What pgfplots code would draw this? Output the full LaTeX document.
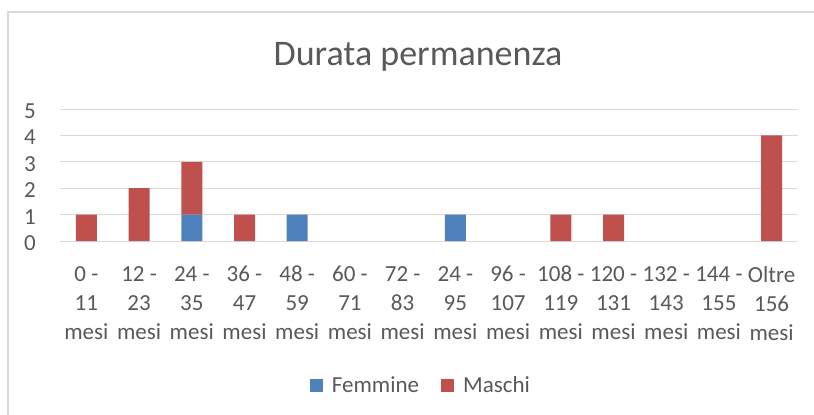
\documentclass[border=0pt]{standalone}
\usepackage{pgfplots}
\pgfplotsset{compat=1.18}
\usepackage{fontspec}
\setmainfont{Carlito}
\definecolor{fem}{HTML}{4F81BD}
\definecolor{mas}{HTML}{C0504D}
\definecolor{txt}{HTML}{595959}
\definecolor{grd}{HTML}{D9D9D9}
\begin{document}
\begin{tikzpicture}[x=1bp,y=1bp]
\useasboundingbox (0,0) rectangle (814,414);
\draw[grd, line width=1.5bp] (8,-2) -- (8,402) -- (816,402);
\node[txt, font=\fontsize{36bp}{42bp}\selectfont, anchor=base, inner sep=0] at (418,349) {Durata permanenza};
\begin{axis}[
  at={(60bp,173bp)}, anchor=south west, scale only axis,
  width=738bp, height=132bp,
  ybar stacked, bar width=21bp,
  xmin=-0.5, xmax=13.5, ymin=0, ymax=5,
  ytick={0,1,2,3,4,5}, xtick={0,1,...,13},
  xticklabels={{0 -\\11\\mesi},{12 -\\23\\mesi},{24 -\\35\\mesi},{36 -\\47\\mesi},{48 -\\59\\mesi},{60 -\\71\\mesi},{72 -\\83\\mesi},{24 -\\95\\mesi},{96 -\\107\\mesi},{108 -\\119\\mesi},{120 -\\131\\mesi},{132 -\\143\\mesi},{144 -\\155\\mesi},{Oltre\\156\\mesi}},
  axis x line*=bottom, axis y line*=left, axis line style={draw=none},
  ymajorgrids, grid style={grd, line width=1bp},
  major tick length=0,
  /pgf/number format/assume math mode=true,
  ticklabel style={text=txt, font=\fontsize{23bp}{29bp}\selectfont},
  yticklabel style={inner sep=0, xshift=-24bp, yshift=-2bp},
  xticklabel style={align=center, inner sep=0, yshift=-25bp},
  legend style={at={(0.489,-1.091)}, anchor=center, draw=none, fill=none,
    font=\fontsize{23bp}{28bp}\selectfont, text=txt,
    /tikz/column 2/.append style={column sep=20bp}},
  legend columns=2,
  legend image code/.code={\fill[#1] (0bp,-6.5bp) rectangle (13bp,6.5bp); \path (20bp,0bp);},
]
\addplot[fill=fem, draw=none] coordinates {(0,0) (1,0) (2,1) (3,0) (4,1) (5,0) (6,0) (7,1) (8,0) (9,0) (10,0) (11,0) (12,0) (13,0)};
\addlegendentry{Femmine}
\addplot[fill=mas, draw=none] coordinates {(0,1) (1,2) (2,2) (3,1) (4,0) (5,0) (6,0) (7,0) (8,0) (9,1) (10,1) (11,0) (12,0) (13,4)};
\addlegendentry{Maschi}
\end{axis}
\end{tikzpicture}
\end{document}
